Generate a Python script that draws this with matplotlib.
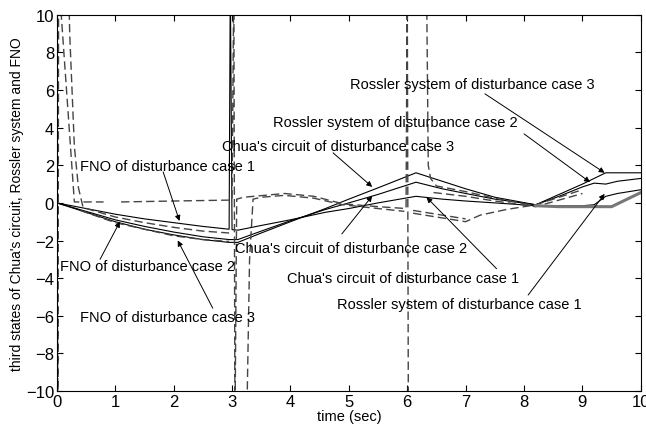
import matplotlib
matplotlib.use("Agg")
import matplotlib.pyplot as plt

# time knots of the three true third-state trajectories (solid)
t_state = [0.0, 0.5, 1.0, 1.5, 2.0, 2.5, 2.95, 2.97, 3.0, 3.1, 3.5, 4.0, 4.6, 5.0, 5.5, 6.15,
           6.6, 7.0, 7.5, 8.2, 8.6, 9.0, 9.2, 9.4, 9.6, 10.0]
state_case1 = [0.0, -0.3, -0.6, -0.85, -1.05, -1.25, -1.4, 12.0, -1.42, -1.45, -1.2, -0.9, -0.5,
               -0.3, 0.0, 0.35, 0.2, 0.1, 0.0, -0.15, -0.15, -0.15, -0.1, 0.35, 0.5, 0.7]
state_case2 = [0.0, -0.45, -0.9, -1.25, -1.55, -1.8, -1.95, -1.95, -1.95, -1.95, -1.5, -0.95, -0.35,
               0.0, 0.45, 1.1, 0.75, 0.5, 0.2, -0.1, 0.35, 0.85, 1.05, 1.0, 1.15, 1.3]
state_case3 = [0.0, -0.5, -1.0, -1.4, -1.7, -1.95, -2.1, -2.1, -2.1, -2.1, -1.6, -1.0, -0.3,
               0.2, 0.8, 1.6, 1.15, 0.75, 0.3, -0.1, 0.45, 1.0, 1.3, 1.6, 1.6, 1.6]

# dashed estimator trajectories, including the switching transients
est1_t = [0.0, 0.02, 0.03, 0.3, 0.8]
est1_y = [0.0, -12.0, 12.0, 0.05, 0.05]
est2_t = [0.2, 0.22, 0.3, 0.37, 0.45, 1.0, 1.5, 2.0, 2.5, 2.95]
est2_y = [12.0, 9.0, 3.0, 0.8, -0.25, -0.75, -1.05, -1.3, -1.5, -1.6]
est3_t = [0.4, 1.0, 1.5, 2.0, 2.5, 2.95]
est3_y = [-0.4, -1.05, -1.4, -1.75, -1.95, -2.05]
est4_t = [1.1, 2.0, 3.0, 3.03, 3.05, 3.08, 3.2, 3.9, 4.4, 4.9, 5.5, 5.98, 6.0, 6.02]
est4_y = [0.05, 0.1, 0.15, 12.0, -12.0, 0.2, 0.3, 0.5, 0.35, -0.05, -0.2, -0.3, 12.0, -12.0]
est5_t = [3.25, 3.3, 3.36, 3.5, 3.9, 4.4, 4.9, 5.5, 5.95]
est5_y = [-12.0, -3.0, 0.2, 0.3, 0.4, 0.25, -0.1, -0.3, -0.45]
est6_t = [6.33, 6.36, 6.4, 6.5, 7.0, 7.5, 8.2]
est6_y = [12.0, 2.0, 1.3, 0.9, 0.6, 0.25, -0.15]
est7_t = [6.1, 6.5, 7.0]
est7_y = [-0.4, -0.6, -0.85]
est8_t = [6.1, 6.5, 7.0, 7.25, 7.7, 8.2, 8.6, 9.0]
est8_y = [-0.55, -0.75, -1.0, -0.65, -0.35, -0.1, 0.3, 0.7]
est9_t = [6.45, 7.0, 7.5, 8.2, 8.6, 9.0]
est9_y = [0.55, 0.35, 0.1, -0.2, 0.15, 0.5]
# thick grey band where the estimates settle
band_t = [8.2, 8.6, 9.0, 9.5, 10.0]
band_y = [-0.15, -0.2, -0.2, -0.2, 0.55]

# annotations: label, text position, arrow tail, arrow tip
labels = [
    "FNO of disturbance case 1", "FNO of disturbance case 2", "FNO of disturbance case 3",
    "Chua's circuit of disturbance case 1", "Chua's circuit of disturbance case 2",
    "Chua's circuit of disturbance case 3", "Rossler system of disturbance case 1",
    "Rossler system of disturbance case 2", "Rossler system of disturbance case 3",
]
text_xy = [(0.39, 1.95), (0.05, -3.35), (0.39, -6.05), (3.94, -4.0), (3.05, -2.4),
           (2.82, 3.05), (4.79, -5.4), (3.7, 4.3), (5.02, 6.3)]
arrow_from = [(1.82, 1.65), (0.74, -3.0), (2.67, -5.6), (7.53, -3.5), (4.88, -1.65),
              (4.73, 2.66), (8.07, -4.9), (8.0, 3.67), (7.33, 5.8)]
arrow_to = [(2.1, -0.96), (1.08, -1.0), (2.07, -2.0), (6.33, 0.3), (5.4, 0.37),
            (5.4, 0.85), (9.38, 0.48), (9.13, 1.1), (9.38, 1.6)]

plt.rcParams["font.family"] = ["Liberation Sans", "DejaVu Sans"]
fig = plt.figure(figsize=(6.46, 4.27), dpi=100)
ax = fig.add_axes([0.088, 0.082, 0.904, 0.881])

for y in (state_case1, state_case2, state_case3):
    ax.plot(t_state, y, color="black", lw=0.8)

dash_sets = [(est1_t, est1_y), (est2_t, est2_y), (est3_t, est3_y), (est4_t, est4_y),
             (est5_t, est5_y), (est6_t, est6_y), (est7_t, est7_y), (est8_t, est8_y),
             (est9_t, est9_y)]
for tt, yy in dash_sets:
    ax.plot(tt, yy, color="#444444", lw=1.0, ls=(0, (6, 3)))
ax.plot(band_t, band_y, color="#777777", lw=2.2)

for lab, txy, a0, a1 in zip(labels, text_xy, arrow_from, arrow_to):
    ax.text(txy[0], txy[1], lab, fontsize=10.5, va="center", ha="left")
    ax.annotate("", xy=a1, xytext=a0,
                arrowprops=dict(arrowstyle="-|>", color="black", lw=0.7,
                                mutation_scale=8, shrinkA=0, shrinkB=0))

ax.set_xlim(0, 10)
ax.set_ylim(-10, 10)
ax.set_xticks(range(0, 11))
ax.set_yticks(range(-10, 11, 2))
ax.tick_params(direction="in", top=True, right=True, labelsize=12, length=4, pad=2)
ax.set_xlabel("time (sec)", fontsize=10.5, labelpad=0)
ax.set_ylabel("third states of Chua's circuit, Rossler system and FNO", fontsize=10, labelpad=1)

fig.savefig("out.png", dpi=100)
